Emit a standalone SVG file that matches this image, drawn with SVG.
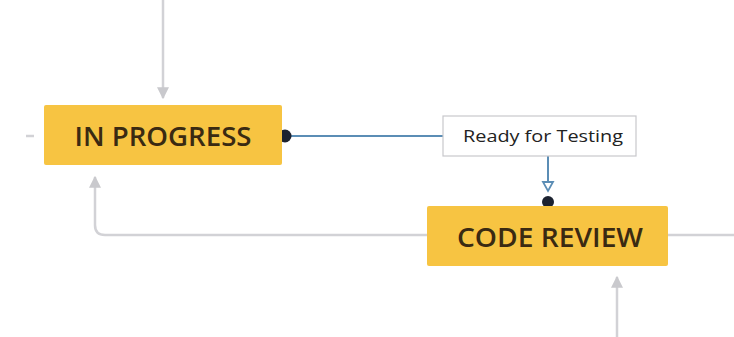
<svg xmlns="http://www.w3.org/2000/svg" width="734" height="337" viewBox="0 0 734 337">
<style>
.status{fill:#f7c442;}
.stxt{font-family:"Open Sans","Liberation Sans",sans-serif;font-size:27px;font-weight:600;fill:#3a2a12;text-anchor:middle}
.grey{stroke:#d2d2d6;stroke-width:2.5;fill:none}
.blue{stroke:#5b8db5;stroke-width:2;fill:none}
.lbl{font-family:"Open Sans","Liberation Sans",sans-serif;font-size:17px;fill:#222;text-anchor:middle}
</style>
<defs>
<marker id="ga" markerWidth="12" markerHeight="12" refX="9" refY="5" orient="auto" markerUnits="userSpaceOnUse" viewBox="0 0 10 10">
<path d="M0,0 L10,5 L0,10 Z" fill="#c9c9cd"/>
</marker>
</defs>
<rect width="734" height="337" fill="#fff"/>
<g id="connectors">
<line class="grey" x1="163" y1="0" x2="163" y2="98" marker-end="url(#ga)"/>
<line class="grey" x1="26" y1="136" x2="34" y2="136"/>
<path class="grey" d="M427,235 L105,235 Q95,235 95,225 L95,177" marker-end="url(#ga)"/>
<line class="grey" x1="668" y1="235" x2="734" y2="235"/>
<line class="grey" x1="617" y1="337" x2="617" y2="277" marker-end="url(#ga)"/>
<line class="blue" x1="285" y1="136" x2="443" y2="136"/>
<line class="blue" x1="548" y1="156" x2="548" y2="182"/>
<path d="M543,182 L553,182 L548,191 Z" fill="#fff" stroke="#5b8db5" stroke-width="1.8"/>
<circle cx="285" cy="136" r="6.5" fill="#1c2230"/>
<circle cx="548" cy="202" r="6" fill="#1c2230"/>
</g>
<g id="in-progress">
<rect class="status" x="44" y="105" width="238" height="60" rx="2"/>
<text class="stxt" x="163" y="146" textLength="177" lengthAdjust="spacingAndGlyphs">IN PROGRESS</text>
</g>
<g id="code-review">
<rect class="status" x="427" y="206" width="241" height="60" rx="2"/>
<text class="stxt" x="550" y="247" textLength="186" lengthAdjust="spacingAndGlyphs">CODE REVIEW</text>
</g>
<g id="ready-for-testing">
<rect x="443" y="116" width="193" height="40" fill="#fff" stroke="#c8c8cc" stroke-width="1.2"/>
<text class="lbl" x="543" y="142" textLength="160" lengthAdjust="spacingAndGlyphs">Ready for Testing</text>
</g>
</svg>
